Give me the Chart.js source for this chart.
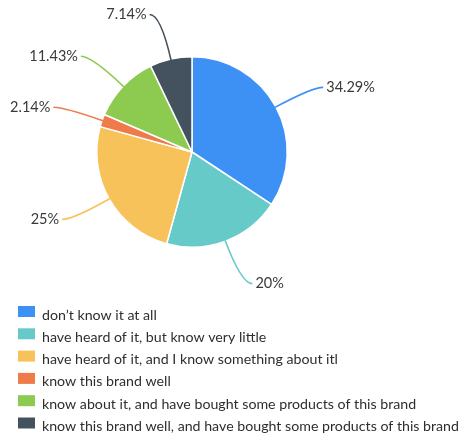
<!DOCTYPE html>
<html>
<head>
<meta charset="utf-8">
<script src="https://cdn.jsdelivr.net/npm/chart.js@4/dist/chart.umd.min.js"></script>
<style>
  html, body { margin: 0; padding: 0; background: #ffffff; }
  #wrap { width: 462px; height: 439px; }
</style>
</head>
<body>
<div id="wrap"><canvas id="c" width="462" height="439"></canvas></div>
<script>
const categories = [
  "don\u2019t know it at all",
  "have heard of it, but know very little",
  "have heard of it, and I know something about itl",
  "know this brand well",
  "know about it, and have bought some products of this brand",
  "know this brand well, and have bought some products of this brand"
];
const shares = [34.29, 20, 25, 2.14, 11.43, 7.14];
const valueLabels = ["34.29%", "20%", "25%", "2.14%", "11.43%", "7.14%"];
const colors = ["#3d91f5", "#66cbc8", "#f7c25a", "#f07b4a", "#8cca50", "#44525f"];

const leaderLabels = {
  id: 'leaderLabels',
  afterDatasetsDraw(chart) {
    const ctx = chart.ctx;
    const meta = chart.getDatasetMeta(0);
    ctx.save();
    meta.data.forEach((arc, i) => {
      const p = arc.getProps(['x', 'y', 'startAngle', 'endAngle', 'outerRadius'], true);
      const mid = (p.startAngle + p.endAngle) / 2;
      const cx = Math.cos(mid), cy = Math.sin(mid);
      const r = p.outerRadius;
      const ext = 37 + 9 * Math.abs(cy);
      const x0 = p.x + cx * (r - 1), y0 = p.y + cy * (r - 1);
      const x1 = p.x + cx * (r + ext), y1 = p.y + cy * (r + ext);
      const right = cx >= 0;
      const x2 = x1 + (right ? 11 : -11), y2 = y1;
      ctx.strokeStyle = colors[i];
      ctx.lineWidth = 1.6;
      ctx.beginPath();
      ctx.moveTo(x0, y0);
      ctx.quadraticCurveTo(x1, y1, x2, y2);
      ctx.stroke();
      ctx.fillStyle = '#3a3a3a';
      ctx.font = '14.5px Lato, "Open Sans", sans-serif';
      ctx.textBaseline = 'middle';
      ctx.textAlign = right ? 'left' : 'right';
      ctx.fillText(valueLabels[i], x2 + (right ? 3 : -3), y2);
    });
    ctx.restore();
  }
};

const listLegend = {
  id: 'listLegend',
  afterDraw(chart) {
    const ctx = chart.ctx;
    ctx.save();
    ctx.font = '14.2px Lato, "Open Sans", sans-serif';
    ctx.textBaseline = 'middle';
    ctx.textAlign = 'left';
    categories.forEach((label, i) => {
      const yc = 315 + i * 22.3;
      ctx.fillStyle = colors[i];
      ctx.fillRect(18, yc - 9, 17, 11);
      ctx.fillStyle = '#2e2e2e';
      ctx.fillText(label, 42, yc);
    });
    ctx.restore();
  }
};

new Chart(document.getElementById('c'), {
  type: 'pie',
  data: {
    labels: categories,
    datasets: [{
      data: shares,
      backgroundColor: colors,
      borderColor: '#ffffff',
      borderWidth: 1.5
    }]
  },
  options: {
    responsive: false,
    animation: false,
    layout: { padding: { left: 96, top: 56, right: 174, bottom: 191 } },
    plugins: {
      legend: { display: false },
      tooltip: { enabled: false }
    }
  },
  plugins: [leaderLabels, listLegend]
});
</script>
</body>
</html>
